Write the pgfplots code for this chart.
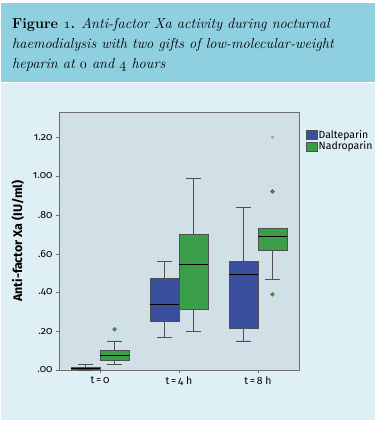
\documentclass[border=0pt]{standalone}
\usepackage{fontspec}
\usepackage{pgfplots}
\pgfplotsset{compat=1.18}
\usepgfplotslibrary{statistics}
\newfontfamily\lab[Numbers=OldStyle]{Fira Sans}
\definecolor{hdr}{RGB}{142,207,224}
\definecolor{pnl}{RGB}{223,239,246}
\definecolor{plotbg}{RGB}{209,224,230}
\definecolor{dblue}{RGB}{58,78,158}
\definecolor{ngreen}{RGB}{58,158,72}
\definecolor{edge}{RGB}{80,80,80}
\definecolor{axl}{RGB}{110,110,110}
\begin{document}
\begin{tikzpicture}[x=1bp,y=1bp]
% origin = lower left corner of the axis box
\fill[white] (-59,-51) rectangle (320,370);
\fill[hdr] (-58,288) rectangle (316,367);
\fill[pnl] (-58,-50) rectangle (316,287);
\node[anchor=base west, align=left, inner sep=0,
      font=\fontsize{14.5}{20}\selectfont] at (-47,302)
  {\textbf{Figure $\mathnormal{1}$.} \textit{Anti-factor Xa activity during nocturnal}\\
   \textit{haemodialysis with two gifts of low-molecular-weight}\\
   \textit{heparin at $\mathnormal{0}$ and $\mathnormal{4}$ hours}};
\begin{axis}[
  scale only axis,
  width=240bp, height=258bp,
  xmin=-0.52, xmax=2.52, ymin=0, ymax=1.33,
  axis background/.style={fill=plotbg},
  axis line style={axl},
  xtick={0,1,2}, xticklabels={t\,=\,0, t\,=\,4 h, t\,=\,8 h},
  ytick={0,0.2,0.4,0.6,0.8,1.0,1.2},
  yticklabels={.00,.20,.40,.60,.80,1.00,1.20},
  tick align=outside, tick pos=left, major tick length=3bp,
  tick style={axl},
  ticklabel style={font=\lab\fontsize{10.5}{12}\selectfont},
  ylabel={Anti-factor Xa (IU/ml)},
  ylabel style={font=\lab\bfseries\fontsize{12.5}{14}\selectfont, at={(axis description cs:-0.172,0.5)}, anchor=center},
  legend style={at={(1.015,0.945)}, anchor=north west, draw=none, fill=none,
     font=\lab\fontsize{10.5}{12}\selectfont, row sep=-1bp,
     nodes={inner sep=1.5bp}},
  legend cell align=left,
  boxplot/draw direction=y,
  boxplot/box extend=0.37,
  boxplot/whisker extend=0.18,
  boxplot/every box/.style={draw=edge},
  boxplot/every whisker/.style={draw=edge},
  boxplot/every median/.style={draw=black, line width=0.9pt},
]
\addlegendimage{legend image code/.code={\draw[fill=dblue,draw=edge] (0bp,-4.5bp) rectangle (11bp,4.5bp);}}
\addlegendentry{Dalteparin}
\addlegendimage{legend image code/.code={\draw[fill=ngreen,draw=edge] (0bp,-4.5bp) rectangle (11bp,4.5bp);}}
\addlegendentry{Nadroparin}
% Dalteparin
\addplot[forget plot, fill=dblue, draw=edge, boxplot prepared={draw position=-0.184,
  lower whisker=0, lower quartile=0.003, median=0.01, upper quartile=0.016, upper whisker=0.03}]
  coordinates {};
\addplot[forget plot, fill=dblue, draw=edge, boxplot prepared={draw position=0.816,
  lower whisker=0.167, lower quartile=0.254, median=0.340, upper quartile=0.473, upper whisker=0.559}]
  coordinates {};
\addplot[forget plot, fill=dblue, draw=edge, boxplot prepared={draw position=1.816,
  lower whisker=0.151, lower quartile=0.218, median=0.490, upper quartile=0.559, upper whisker=0.839}]
  coordinates {};
% Nadroparin
\addplot[forget plot, fill=ngreen, draw=edge, mark=*, mark size=1.9,
  mark options={fill=ngreen, draw=edge!60!ngreen, line width=0.6pt},
  boxplot prepared={draw position=0.184,
  lower whisker=0.03, lower quartile=0.048, median=0.076, upper quartile=0.100, upper whisker=0.151}]
  coordinates {(0,0.21)};
\addplot[forget plot, fill=ngreen, draw=edge, boxplot prepared={draw position=1.184,
  lower whisker=0.201, lower quartile=0.316, median=0.545, upper quartile=0.700, upper whisker=0.987}]
  coordinates {};
\addplot[forget plot, fill=ngreen, draw=edge, mark=*, mark size=1.9,
  mark options={fill=ngreen, draw=edge!60!ngreen, line width=0.6pt},
  boxplot prepared={draw position=2.184,
  lower whisker=0.468, lower quartile=0.619, median=0.690, upper quartile=0.731, upper whisker=0.731}]
  coordinates {(0,0.92) (0,0.39)};
\addplot[forget plot, only marks, mark=asterisk, mark size=1.7, ngreen!85!white] coordinates {(2.184,1.20)};
\end{axis}
\end{tikzpicture}
\end{document}
